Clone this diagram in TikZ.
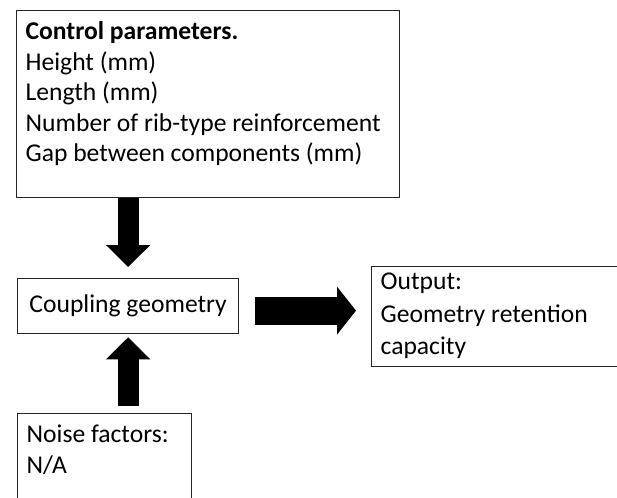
\documentclass[tikz,border=0pt]{standalone}
\usepackage{fontspec}
\setmainfont{Carlito}
\usepackage{tikz}
\usetikzlibrary{arrows.meta,positioning}
\definecolor{edgec}{HTML}{262626}

\begin{document}
\begin{tikzpicture}[x=1pt, y=-1pt, font=\fontsize{25.6}{30.5}\selectfont,
  box/.style={draw=edgec, line width=1.3pt, anchor=north west, align=flush left, inner xsep=9pt, inner ysep=5pt},
  fatarrow/.style={line width=21pt, -{Triangle[width=43pt,length=22pt]}}]
  \useasboundingbox (0,0) rectangle (617,497);
  % boxes
  \node[box, text width=365pt, text height=24pt, text depth=153pt] (ctrl) at (16,10)
    {\textbf{Control parameters.}\\Height (mm)\\Length (mm)\\Number of rib-type reinforcement\\Gap between components (mm)};
  \node[box, anchor=north west, align=center, minimum width=221pt, minimum height=55pt] (cpl) at (17,278) {Coupling geometry};
  \node[box, font=\fontsize{25.6}{32.5}\selectfont, text width=242pt, text height=18pt, text depth=72pt] (out) at (371,266)
    {Output:\\Geometry retention\\capacity};
  \node[box, text width=156pt, text height=24pt, text depth=60pt] (noise) at (17,413)
    {Noise factors:\\N/A};
  % arrows
  \draw[fatarrow, shorten >=11pt] (ctrl.south -| cpl.north) -- (cpl.north);
  \draw[fatarrow, shorten <=7pt, shorten >=3pt] (noise.north -| cpl.south) -- (cpl.south);
  \draw[fatarrow, line width=28pt, -{Triangle[width=47pt,length=19pt]}, shorten <=16pt, shorten >=15pt]
    ([yshift=-4.5pt]cpl.east) -- ([yshift=-4.5pt]cpl.east -| out.west);
\end{tikzpicture}
\end{document}
